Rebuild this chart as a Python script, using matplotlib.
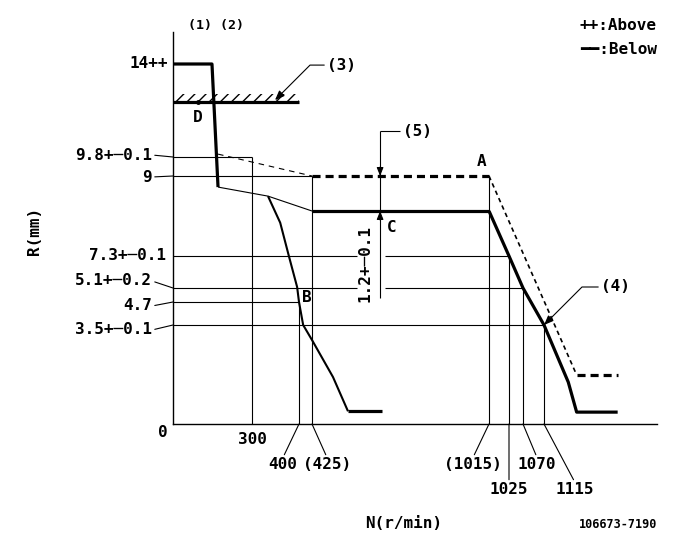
import numpy as np
import matplotlib
matplotlib.use("Agg")
import matplotlib.pyplot as plt

# ---------------- data ----------------
# full-load / governor curve (solid)
step_rpm = [0, 148, 171]
step_mm = [14, 14, 8.62]
torque_rpm = [171, 334, 425]
torque_mm = [8.62, 8.31, 7.8]
rated_rpm = [425, 1015]
rated_mm = [7.8, 7.8]
gov_rpm = [1015, 1025, 1070, 1115, 1144, 1154, 1203]
gov_mm = [7.8, 7.3, 5.1, 3.5, 1.48, 0.42, 0.42]
# idle curve
idle_rpm = [334, 360, 379, 396, 400, 408, 425, 495, 545]
idle_mm = [8.31, 7.67, 7.23, 5.17, 4.7, 3.5, 2.97, 1.66, 0.45]
idle_end_rpm = [545, 658]
idle_end_mm = [0.45, 0.45]
# upper limit (dashed)
upper_thin_rpm = [171, 425]
upper_thin_mm = [9.93, 9.0]
upper_rpm = [425, 1015]
upper_mm = [9.0, 9.0]
upper_gov_rpm = [1015, 1153]
upper_gov_mm = [9.0, 1.8]
upper_end_rpm = [1155, 1203]
upper_end_mm = [1.73, 1.73]
# stopper (3)
stopper_rpm = [0, 400]
stopper_mm = 12.3
stopper_band = 12.66
point_d_rpm = 95

# reference levels (horizontal to rpm, then vertical to axis)
ref_mm = [9.8, 9.0, 7.3, 5.1, 4.7, 3.5]
ref_rpm = [300, 425, 1025, 1070, 400, 1115]
PM = "+\u2500"
y_levels = [14, 9.8, 9, 7.3, 5.1, 4.7, 3.5]
y_labels = ["14++", "9.8" + PM + "0.1", "9", "7.3" + PM + "0.1", "5.1" + PM + "0.2", "4.7",
            "3.5" + PM + "0.1"]
x_ticks = [0, 300, 400, 425, 1015, 1025, 1070, 1115]
x_labels = ["0", "300", "400", "(425)", "(1015)", "1025", "1070", "1115"]
dim5_rpm = 652
dim5_top = 10.97
dim5_bottom = 4.81
gap_rpm = [575, 668]
dim_label = "1.2" + PM + "0.1"

# ---------------- schematic (non-proportional) scales ----------------
X_RPM = [-700, 0, 300, 400, 425, 1015, 1025, 1070, 1115, 1250, 1300]
X_POS = [-11.3, 173, 252, 299, 312, 489, 509, 523, 544, 657, 698.9]
Y_MM = [-5, 0, 3.5, 4.7, 5.1, 7.3, 7.8, 9.0, 9.8, 14, 15.5, 17]
Y_POS = [565.4, 424, 325, 302, 288, 256, 211, 176, 157, 64, 32, 0]
Y_POS_NEG = [-p for p in Y_POS]


def fx(v):
    return np.interp(v, X_RPM, X_POS)


def fx_inv(p):
    return np.interp(p, X_POS, X_RPM)


def fy(v):
    return np.interp(v, Y_MM, Y_POS_NEG)


def fy_inv(p):
    return np.interp(p, Y_POS_NEG, Y_MM)


plt.rcParams["font.family"] = ["DejaVu Sans Mono", "DejaVu Sans"]
plt.rcParams["font.weight"] = "bold"
plt.rcParams["hatch.linewidth"] = 1.0
plt.rcParams["lines.scale_dashes"] = False

W, H = 685, 549
fig = plt.figure(figsize=(W / 100, H / 100), dpi=100)
ax = fig.add_axes([173 / W, (H - 424) / H, (657 - 173) / W, (424 - 32) / H])
ax.set_xscale("function", functions=(fx, fx_inv))
ax.set_yscale("function", functions=(fy, fy_inv))
ax.set_xlim(0, 1250)
ax.set_ylim(0, 15.5)
ax.set_xticks([])
ax.set_yticks([])
ax.minorticks_off()
for s in ("top", "right"):
    ax.spines[s].set_visible(False)
for s in ("left", "bottom"):
    ax.spines[s].set_linewidth(1.0)

K = "black"
THICK, MED, THIN = 2.3, 1.5, 0.8

def line(x, y, lw=THIN, **kw):
    ax.plot(x, y, color=K, lw=lw, clip_on=False, solid_capstyle="butt", **kw)

# reference lines
for mm, rpm in zip(ref_mm, ref_rpm):
    if mm in (7.3, 5.1):
        line([0, gap_rpm[0]], [mm, mm])
        line([gap_rpm[1], rpm], [mm, mm])
    else:
        line([0, rpm], [mm, mm])
    line([rpm, rpm], [mm, 0])
line([1015, 1015], [9.0, 0])

# curves
line(step_rpm, step_mm, lw=THICK)
line(torque_rpm, torque_mm, lw=THIN)
line(rated_rpm, rated_mm, lw=THICK)
line(gov_rpm, gov_mm, lw=THICK)
line(idle_rpm, idle_mm, lw=MED)
line(idle_end_rpm, idle_end_mm, lw=THICK)
line(upper_thin_rpm, upper_thin_mm, lw=THIN, dashes=(4, 3.5))
line(upper_rpm, upper_mm, lw=THICK, dashes=(5.8, 3.6))
line(upper_gov_rpm, upper_gov_mm, lw=1.2, dashes=(3.2, 2.6))
line(upper_end_rpm, upper_end_mm, lw=THICK, dashes=(5.8, 3.6))

# stopper (3)
line(stopper_rpm, [stopper_mm, stopper_mm], lw=THICK)
ax.fill_between(stopper_rpm, stopper_mm, stopper_band, facecolor="none",
                edgecolor=K, hatch="///", linewidth=0, clip_on=False)
ax.plot([point_d_rpm], [stopper_mm], "o", color=K, ms=2.5, clip_on=False)

# dimension (5)
line([dim5_rpm, dim5_rpm], [dim5_bottom, dim5_top])
line([dim5_rpm, 718], [dim5_top, dim5_top])
for yv, dy in ((9.0, 9), (7.8, -9)):
    ax.annotate("", xy=(dim5_rpm, yv), xytext=(0, dy), textcoords="offset pixels",
                annotation_clip=False,
                arrowprops=dict(arrowstyle="-|>,head_length=0.5,head_width=0.2",
                                color=K, lw=0.8, shrinkA=0, shrinkB=0))

FS = 11.5

def ann(text, xy, off, ha="center", va="center", leader=False, relpos=(0.5, 0.5),
        size=FS, rot=0, arrow=None, conn="arc3"):
    props = None
    if leader:
        props = dict(arrowstyle="-", lw=0.8, color=K, shrinkA=0, shrinkB=0,
                     relpos=relpos, connectionstyle=conn)
    if arrow:
        props = dict(arrowstyle="-|>,head_length=0.5,head_width=0.2", lw=0.8, color=K,
                     shrinkA=0, shrinkB=0, relpos=relpos, connectionstyle=conn)
    ax.annotate(text, xy=xy, xytext=off, textcoords="offset pixels", ha=ha, va=va,
                fontsize=size, fontweight="bold", rotation=rot,
                annotation_clip=False, arrowprops=props)

# y labels
y_offsets = [(-5, 0, False), (-21, 2, True), (-21, -1, True), (-7, 0, False),
             (-21, 7, True), (-21, -4, True), (-21, -5, True)]
for v, lab, (dx, dy, ld) in zip(y_levels, y_labels, y_offsets):
    ann(lab, (0, v), (dx, dy), ha="right", leader=ld, relpos=(1, 0.5))

# x labels
x_offsets = [(-10, -9, False), (0, -16, False), (-16, -41, True), (15, -41, True),
             (-16, -41, True), (0, -66, True), (14, -41, True), (31, -66, True)]
for v, lab, (dx, dy, ld) in zip(x_ticks, x_labels, x_offsets):
    ann(lab, (v, 0), (dx, dy), leader=ld, relpos=(0.5, 1))

# point labels
ann("A", (1015, 9.0), (-7, 15))
ann("B", (400, 4.7), (8, 4))
ann("C", (dim5_rpm, 7.8), (12, -16))
ann("D", (point_d_rpm, stopper_mm), (0, -16))
ann("(5)", (718, dim5_top), (3, 0), ha="left")
ann(dim_label, (dim5_rpm, 6.75), (-15, 0), rot=90)
ann("(3)", (349, 12.37), (52, 35), ha="left", arrow=True, relpos=(0, 0.5),
    conn="angle,angleA=0,angleB=45,rad=0")
ann("(4)", (1115, 3.5), (57, 38), ha="left", arrow=True, relpos=(0, 0.5),
    conn="angle,angleA=0,angleB=45,rad=0")

# figure texts
def ftext(x, y, s, **kw):
    fig.text(x / W, 1 - y / H, s, fontweight="bold", **kw)

ftext(216, 25, "(1) (2)", ha="center", va="center", fontsize=9.5)
ftext(580, 25, "++:Above", ha="left", va="center", fontsize=FS)
ftext(580, 49, "\u2501\u2501:Below", ha="left", va="center", fontsize=FS)
ftext(404, 523, "N(r/min)", ha="center", va="center", fontsize=FS)
ftext(657, 525, "106673-7190", ha="right", va="center", fontsize=8.5)
ftext(35, 231, "R(mm)", ha="center", va="center", fontsize=FS, rotation=90)

fig.savefig("out.png", dpi=100, facecolor="white")
